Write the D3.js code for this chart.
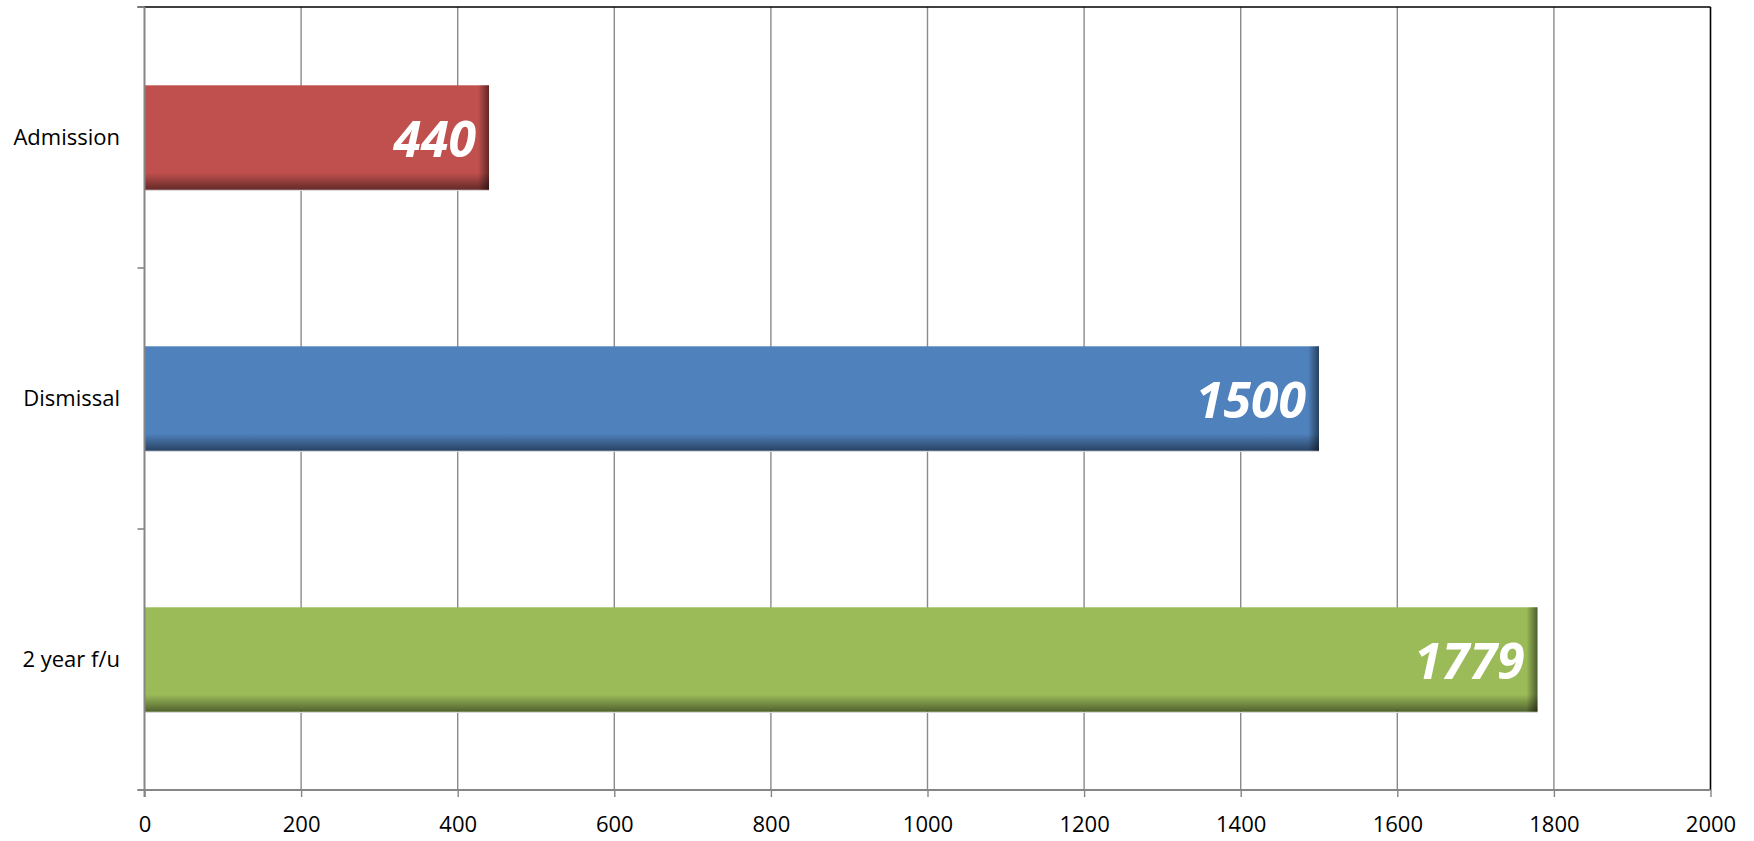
<!DOCTYPE html>
<html>
<head>
<meta charset="utf-8">
<script src="https://cdn.jsdelivr.net/npm/d3@7"></script>
<style>
  html, body { margin: 0; padding: 0; background: #fff; }
  svg { display: block; }
  text { font-family: "Open Sans", "Liberation Sans", sans-serif; }
</style>
</head>
<body>
<svg id="chart" width="1754" height="841"></svg>
<script>
// Patients followed at each stage
const categories = ["Admission", "Dismissal", "2 year f/u"];
const counts = [440, 1500, 1779];
const barColors = ["#C0504D", "#4F81BD", "#9BBB59"];
const xTicks = [0, 200, 400, 600, 800, 1000, 1200, 1400, 1600, 1800, 2000];

const svg = d3.select("#chart");
const plotLeft = 144.5, plotRight = 1710.5, plotTop = 7, plotBottom = 790;

const x = d3.scaleLinear().domain([0, 2000]).range([plotLeft, plotRight]);
const y = d3.scaleBand().domain(categories).range([plotTop, plotBottom])
  .paddingInner(0.6).paddingOuter(0.3);

// Shading gradients for the bevelled bar edges
const defs = svg.append("defs");
const gRight = defs.append("linearGradient").attr("id", "shadeRight")
  .attr("x1", 0).attr("x2", 1).attr("y1", 0).attr("y2", 0);
gRight.append("stop").attr("offset", "0%").attr("stop-color", "#000").attr("stop-opacity", 0);
gRight.append("stop").attr("offset", "100%").attr("stop-color", "#000").attr("stop-opacity", 0.5);
const gBottom = defs.append("linearGradient").attr("id", "shadeBottom")
  .attr("x1", 0).attr("x2", 0).attr("y1", 0).attr("y2", 1);
gBottom.append("stop").attr("offset", "0%").attr("stop-color", "#000").attr("stop-opacity", 0);
gBottom.append("stop").attr("offset", "100%").attr("stop-color", "#000").attr("stop-opacity", 0.48);

// Vertical gridlines
svg.append("g").selectAll("line")
  .data(xTicks.filter(t => t > 0 && t < 2000))
  .join("line")
  .attr("x1", d => x(d)).attr("x2", d => x(d))
  .attr("y1", plotTop).attr("y2", plotBottom)
  .attr("stroke", "#8a8a8a").attr("stroke-width", 1.4);

// Plot frame: black top and right edges
svg.append("line").attr("x1", plotLeft - 7).attr("x2", plotRight).attr("y1", plotTop).attr("y2", plotTop)
  .attr("stroke", "#000").attr("stroke-width", 1.6);
svg.append("line").attr("x1", plotRight).attr("x2", plotRight).attr("y1", plotTop).attr("y2", plotBottom)
  .attr("stroke", "#000").attr("stroke-width", 1.6);

// Bars
const bars = svg.append("g").selectAll("g")
  .data(categories.map((c, i) => ({ cat: c, value: counts[i], color: barColors[i] })))
  .join("g");

bars.append("rect")
  .attr("x", x(0)).attr("y", d => y(d.cat))
  .attr("width", d => x(d.value) - x(0)).attr("height", y.bandwidth())
  .attr("fill", d => d.color);

bars.append("rect")
  .attr("x", x(0)).attr("y", d => y(d.cat) + y.bandwidth() - 17)
  .attr("width", d => x(d.value) - x(0)).attr("height", 17)
  .attr("fill", "url(#shadeBottom)");

bars.append("rect")
  .attr("x", d => x(d.value) - 11).attr("y", d => y(d.cat))
  .attr("width", 11).attr("height", y.bandwidth())
  .attr("fill", "url(#shadeRight)");

bars.append("line")
  .attr("x1", x(0)).attr("x2", d => x(d.value))
  .attr("y1", d => y(d.cat) + y.bandwidth() + 0.8)
  .attr("y2", d => y(d.cat) + y.bandwidth() + 0.8)
  .attr("stroke", "#d9d9d9").attr("stroke-width", 1);

// Value labels
bars.append("text")
  .attr("x", d => x(d.value) - 13)
  .attr("y", d => y(d.cat) + y.bandwidth() / 2 + 19)
  .attr("text-anchor", "end")
  .attr("fill", "#fff")
  .attr("font-size", 50)
  .attr("font-weight", "bold")
  .attr("font-style", "italic")
  .text(d => d.value);

// Category axis
const yAxisG = svg.append("g");
yAxisG.append("line").attr("x1", plotLeft).attr("x2", plotLeft).attr("y1", plotTop).attr("y2", plotBottom + 7)
  .attr("stroke", "#868686").attr("stroke-width", 2);
const boundaries = categories.map(c => y(c) - y.step() * y.paddingOuter()).concat([plotBottom]);
yAxisG.selectAll("line.tick").data(boundaries).join("line").attr("class", "tick")
  .attr("x1", plotLeft - 7).attr("x2", plotLeft).attr("y1", d => d).attr("y2", d => d)
  .attr("stroke", "#868686").attr("stroke-width", 1.6);
yAxisG.selectAll("text").data(categories).join("text")
  .attr("x", 120).attr("y", d => y(d) + y.bandwidth() / 2)
  .attr("dy", "0.35em")
  .attr("text-anchor", "end")
  .attr("font-size", 22)
  .attr("fill", "#000")
  .text(d => d);

// Value axis
const xAxis = d3.axisBottom(x).tickValues(xTicks).tickFormat(d3.format("d"))
  .tickSize(7).tickPadding(19);
const xAxisG = svg.append("g").attr("transform", `translate(0,${plotBottom})`).call(xAxis);
xAxisG.select(".domain").attr("stroke", "#868686").attr("stroke-width", 2)
  .attr("d", `M${plotLeft - 7},0H${plotRight}`);
xAxisG.selectAll(".tick line").attr("stroke", "#868686").attr("stroke-width", 1.4);
xAxisG.selectAll(".tick text")
  .attr("font-family", "Open Sans, Liberation Sans, sans-serif")
  .attr("font-size", 22).attr("fill", "#000");
</script>
</body>
</html>
